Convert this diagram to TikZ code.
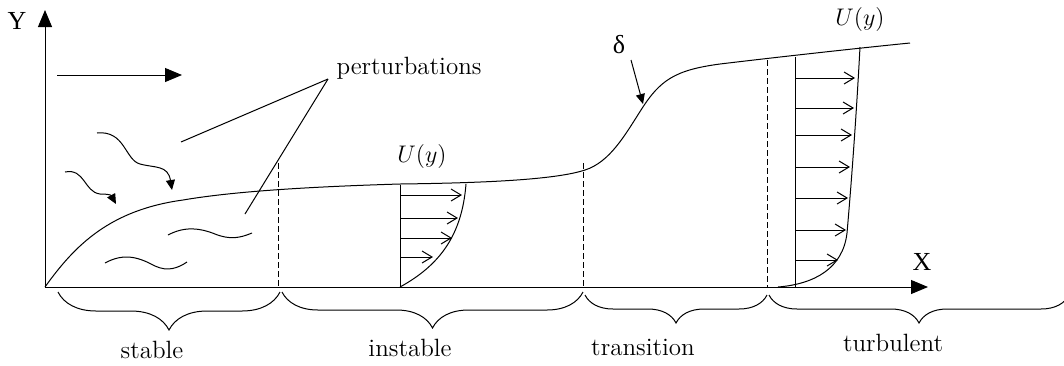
\documentclass[tikz,border=0pt]{standalone}
\usepackage{fontspec}
\newfontfamily\timesfont{Liberation Serif}
\usetikzlibrary{arrows.meta, decorations.pathreplacing}

\begin{document}
\begin{tikzpicture}[x=0.5pt, y=-0.5pt, line width=0.5pt,
    every node/.style={font=\fontsize{12.5}{15}\selectfont},
    axlabel/.style={font=\fontsize{13}{15}\selectfont\timesfont},
    bigtip/.style={-{Triangle[length=8.5pt, width=7pt]}},
    smalltip/.style={-{Triangle[length=5pt, width=4.5pt]}},
    velarrow/.style={-{Straight Barb[length=5pt, width=6pt]}},
    zone/.style={decorate, decoration={brace, mirror, amplitude=#1}},
    zone/.default=18pt,
    bordline/.style={dash pattern=on 3pt off 1.5pt}]

    \useasboundingbox (0,0) rectangle (1064,365);

    % Axes
    \coordinate (O) at (45,287);
    \coordinate (Ytop) at (45,10);
    \coordinate (Xend) at (928,287);
    \draw[bigtip] (O) -- (Ytop);
    \draw[bigtip] (O) -- (Xend);
    \node[axlabel] (ylab) at (17,21) {Y};
    \node[axlabel] (xlab) at (922,262) {X};

    % Free stream direction
    \coordinate (f1) at (57,75);
    \coordinate (f2) at (182,75);
    \draw[bigtip] (f1) -- (f2);

    % Boundary layer edge
    \draw (O) .. controls (75,245) and (110,210) .. (183,200)
        .. controls (230,192) and (300,187) .. (400,184)
        .. controls (480,183) and (555,180) .. (585,170)
        .. controls (610,162) and (625,135) .. (641,110)
        .. controls (660,80) and (675,70) .. (720,64)
        .. controls (770,58) and (850,49) .. (910,43);

    % Region borders
    \foreach \xx/\yy in {278/163, 583/163, 767/60}
        \draw[bordline] (\xx,\yy) -- (\xx,287);

    % Incoming perturbations
    \draw[smalltip] (65,172) .. controls (85,168) and (84,192) .. (100,194)
        .. controls (108,194) and (111,195) .. (116,204);
    \draw[smalltip] (97,133) .. controls (125,130) and (125,160) .. (140,164)
        .. controls (155,168) and (168,165) .. (172,190);
    \draw (105,263) .. controls (125,252) and (140,258) .. (155,266)
        .. controls (168,272) and (178,268) .. (187,262);
    \draw (168,235) .. controls (185,226) and (200,228) .. (215,234)
        .. controls (230,240) and (240,238) .. (252,233);

    \node (pert) at (409,68) {perturbations};
    \coordinate (p0) at (328,79);
    \coordinate (p1) at (181,142);
    \coordinate (p2) at (245,214);
    \draw (p0) -- (p1);
    \draw (p0) -- (p2);

    % Profile in the instable zone
    \draw (400,185) -- (400,287);
    \draw (400,287) .. controls (440,265) and (462,235) .. (466,184);
    \foreach \yy/\xe in {195/462, 218/458, 238/452, 257/433}
        \draw[velarrow] (400,\yy) -- (\xe,\yy);
    \node (u1) at (422,156) {$U(y)$};

    % Turbulent profile
    \draw (795,57) -- (795,287);
    \draw (778,287) .. controls (815,284) and (843,268) .. (847,233)
        .. controls (849,210) and (855,140) .. (860,47);
    \foreach \yy/\xe in {78/855, 108/854, 135/852, 167/850, 198/848, 230/846, 260/838}
        \draw[velarrow] (795,\yy) -- (\xe,\yy);
    \node (u2) at (860,19) {$U(y)$};

    % Thickness
    \node[axlabel] (delta) at (619,45) {δ};
    \coordinate (d1) at (631,60);
    \coordinate (d2) at (643,104);
    \draw[smalltip] (d1) -- (d2);

    % Regimes
    \draw[zone=19pt] (58,292) -- (280,292);
    \draw[zone=18pt] (282,292) -- (583,292);
    \draw[zone=14pt] (585,295) -- (767,295);
    \draw[zone=14pt] (769,295) -- (1069,295);
    \node (stable) at (152,350) {stable};
    \node (instable) at (410,348) {instable};
    \node (transition) at (643,347) {transition};
    \node (turbulent) at (893,343) {turbulent};

\end{tikzpicture}
\end{document}
